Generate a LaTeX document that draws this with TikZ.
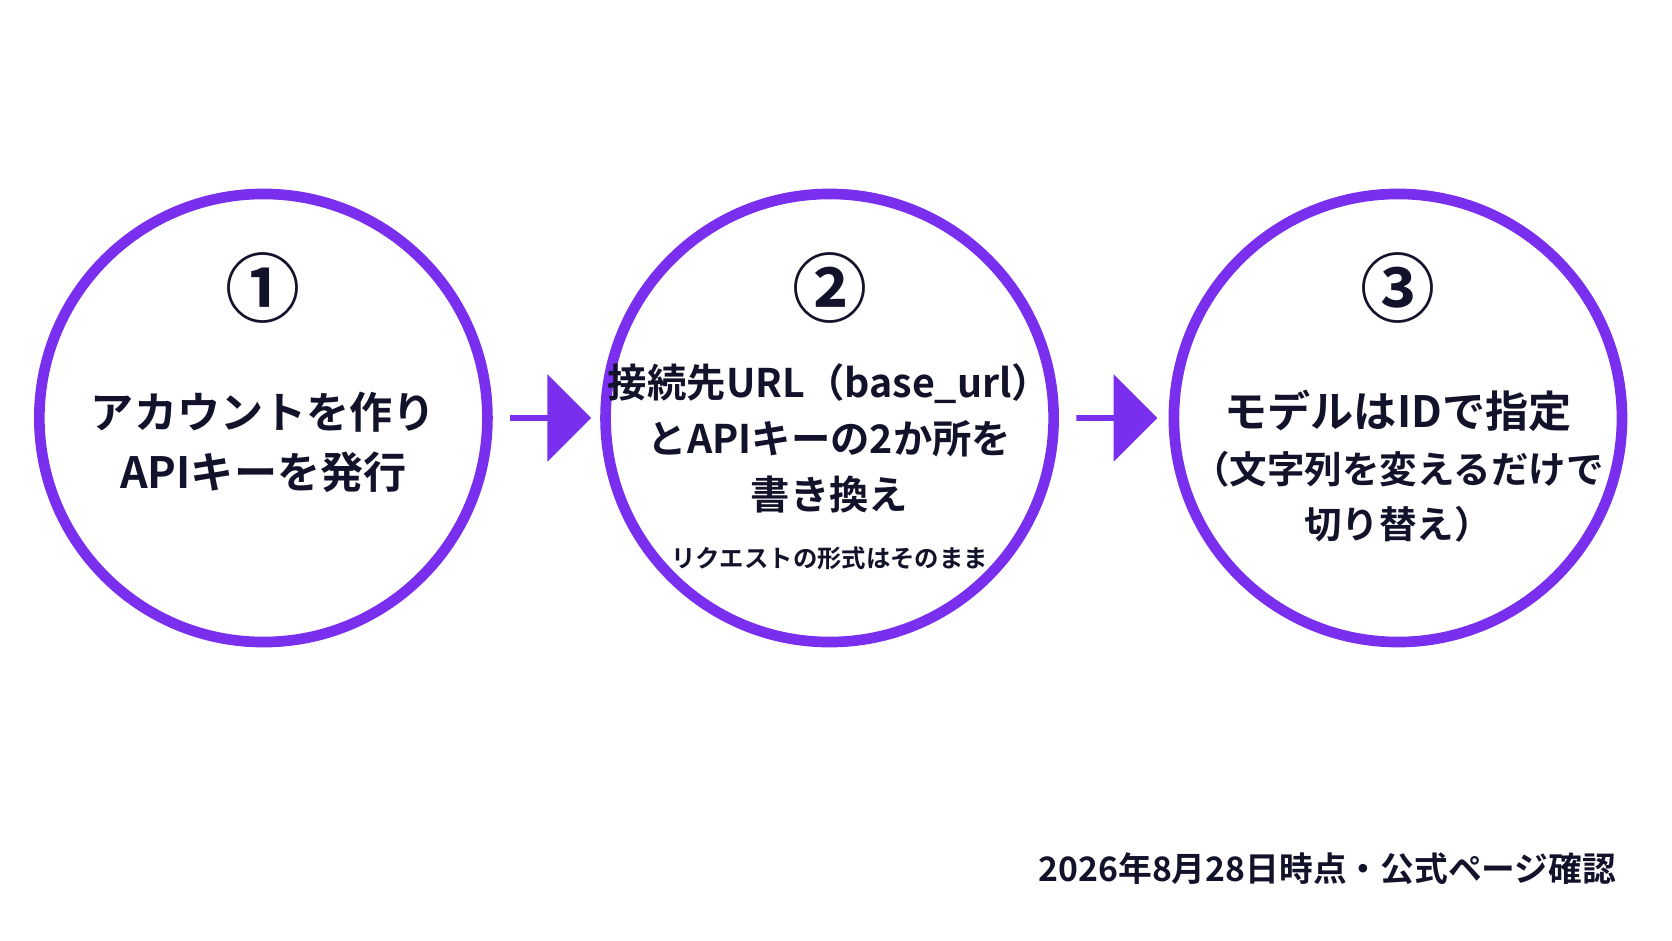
\documentclass[tikz,border=0pt]{standalone}
\usepackage{fontspec}
\setmainfont{Noto Sans CJK JP}[BoldFont={* Bold}]
\usetikzlibrary{positioning, shapes.arrows}
\definecolor{violet}{HTML}{7A2EEE}
\definecolor{ink}{HTML}{12122A}

\begin{document}
\begin{tikzpicture}[x=0.01cm, y=-0.01cm, stage/.style={circle, draw=violet, line width=0.1cm, minimum size=4.2cm}, num/.style={font=\bfseries\fontsize{20pt}{20pt}\selectfont, text=ink}, body/.style={font=\bfseries\fontsize{11.5pt}{16pt}\selectfont, text=ink, align=center}, flow/.style={single arrow, fill=violet, minimum height=0.76cm, minimum width=0.82cm, single arrow head extend=0.1cm, inner sep=0pt} ]
	\useasboundingbox (0,0) rectangle (1568,882);
	\node[stage] (S1) at (247,392) {};
	\node[stage] (S2) at (778,392) {};
	\node[stage] (S3) at (1311,392) {};
	
	%Schritte
	\node[num] (N1) at (247,270) {①};
	\node[num] (N2) at (778,270) {②};
	\node[num] (N3) at (1311,270) {③};
	\node[body] (T1) at (247,415) {アカウントを作り\\APIキーを発行};
	\node[body, font=\bfseries\fontsize{10.5pt}{15pt}\selectfont] (T2) at (778,411) {接続先URL（base\_url）\\とAPIキーの2か所を\\書き換え};
	\node[body, font=\bfseries\fontsize{6.5pt}{8pt}\selectfont] (R2) at (778,524) {リクエストの形式はそのまま};
	\node[body] (T3) at (1311,385) {モデルはIDで指定};
	\node[body, font=\bfseries\fontsize{10pt}{14.5pt}\selectfont] (U3) at (1311,466) {（文字列を変えるだけで\\切り替え）};
	
	%Pfeile
	\node[flow] (A1) at (515,392) {};
	\node[flow] (A2) at (1046,392) {};
	
	\node[font=\bfseries\fontsize{9pt}{9pt}\selectfont, text=ink, anchor=east] (F) at (1528,815) {2026年8月28日時点・公式ページ確認};
\end{tikzpicture}
\end{document}
